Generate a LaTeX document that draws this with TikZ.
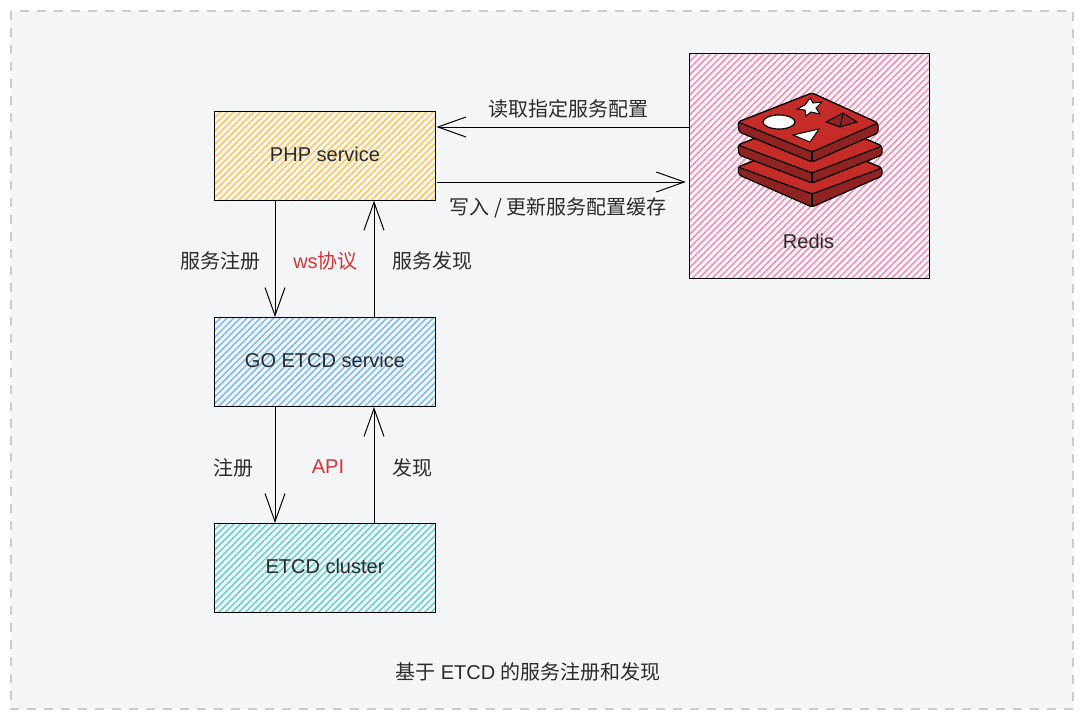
\documentclass[tikz,border=0pt]{standalone}
\usepackage{fontspec}
\setmainfont{Liberation Sans}
\newfontfamily\cjk{Noto Sans CJK SC}
\usetikzlibrary{arrows.meta,patterns.meta}
\definecolor{pagebg}{HTML}{F4F5F7}
\definecolor{pageline}{HTML}{CCCCCC}
\definecolor{inkdark}{HTML}{2B2B2B}
\definecolor{inkred}{HTML}{D9343A}
\definecolor{hatchorange}{HTML}{FFC850}
\definecolor{hatchblue}{HTML}{78BCF2}
\definecolor{hatchteal}{HTML}{62D2D4}
\definecolor{hatchpink}{HTML}{F58CB4}
\definecolor{redislight}{HTML}{C62C27}
\definecolor{redisdark}{HTML}{8E2322}
\tikzset{
  svcbox/.style={draw=black, line width=1pt, inner sep=0pt, minimum width=221.5pt, minimum height=89pt,
    text=inkdark, font=\fontsize{20}{24}\selectfont, text height=14pt, text depth=3pt,
    preaction={fill=pagebg},
    pattern={Lines[angle=45,distance=4.7pt,line width=1.5pt]}},
  flow/.style={draw=black, line width=1pt, -{Straight Barb[length=28pt,width=20pt,line width=1pt]}},
  lbl/.style={text=inkdark, font=\fontsize{20}{24}\selectfont, inner sep=0pt},
  redlbl/.style={lbl, text=inkred},
  slab/.style={draw=black, line width=1.2pt, line join=round, rounded corners=2.5pt}
}
\begin{document}
\begin{tikzpicture}[x=1pt, y=-1pt]
\useasboundingbox (0,0) rectangle (1083,718);
\draw[pageline, fill=pagebg, line width=1.5pt, dash pattern=on 9pt off 8pt] (11,11) rectangle (1073,709);

% Service boxes
\foreach \name/\ypos/\hue/\txt in {
    php/155.5/hatchorange/PHP service,
    go/362/hatchblue/GO ETCD service,
    cluster/568/hatchteal/ETCD cluster
} {
    \node[svcbox, pattern color=\hue] (\name) at (325,\ypos) {\txt};
}
\node[svcbox, pattern color=hatchpink, minimum width=240.5pt, minimum height=225pt] (redis) at (809.5,165.5) {};
\node[lbl] (redisname) at (808.5,241) {Redis};

% Redis logo
\fill[redisdark, slab] (738,167) -- (812,138) -- (882,168) -- (882,176) -- (812,207) -- (739,175) -- cycle;
\fill[redislight, slab] (738,167) -- (812,138) -- (882,168) -- (812,194) -- cycle;
\draw[slab] (812,194) -- (812,207);
\fill[redisdark, slab] (738,145) -- (812,116) -- (882,146) -- (882,155) -- (812,183) -- (739,155) -- cycle;
\fill[redislight, slab] (738,145) -- (812,116) -- (882,146) -- (812,173) -- cycle;
\draw[slab] (812,173) -- (812,183);
\fill[redisdark, slab] (738,122) -- (812,93) -- (878,123) -- (878,133) -- (812,162) -- (739,132) -- cycle;
\fill[redislight, slab] (738,122) -- (812,93) -- (878,123) -- (812,152) -- cycle;
\draw[slab] (812,152) -- (812,162);
\fill[white, draw=black, line width=1.2pt] (779,122) ellipse [x radius=16, y radius=7];
\fill[white, draw=black, line width=1pt] (810,98) -- (813,103) -- (822,102) -- (816,108) -- (820,114) -- (811,112) -- (806,116) -- (805,110) -- (797,109) -- (805,105) -- cycle;
\fill[white, draw=black, line width=1pt] (793,135) -- (819,129) -- (810,142) -- cycle;
\fill[redisdark, draw=black, line width=1pt] (826,122) -- (843,113) -- (857,122) -- (840,127) -- cycle;
\draw[black, line width=1pt] (843,113) -- (840,127);

% Connectors
\coordinate (readpt) at ([yshift=28.5pt]php.east);
\coordinate (writept) at ([yshift=-26.5pt]php.east);
\draw[flow] ([xshift=-50pt]php.south) -- ([xshift=-50pt]go.north);
\draw[flow] ([xshift=49pt]go.north) -- ([xshift=49pt]php.south);
\draw[flow] ([xshift=-50pt]go.south) -- ([xshift=-50pt]cluster.north);
\draw[flow] ([xshift=49pt]cluster.north) -- ([xshift=49pt]go.south);
\draw[flow] (redis.west |- readpt) -- (readpt);
\draw[flow, shorten >=3pt] (writept) -- (redis.west |- writept);

% Labels
\foreach \name/\xpos/\ypos/\txt in {
    lblread/568/108.5/读取指定服务配置,
    lblreg/220/261/服务注册,
    lbldisc/432/261/服务发现,
    lblsign/233/468/注册,
    lblfind/412.5/468/发现
} {
    \node[lbl] (\name) at (\xpos,\ypos) {\cjk \txt};
}
\node[lbl] (lblwrite) at (558,207.5) {\cjk 写入 / 更新服务配置缓存};
\node[redlbl] (lblws) at (325.5,261) {ws{\cjk 协议}};
\node[redlbl] (lblapi) at (328,467) {API};
\node[lbl] (title) at (528,672) {{\cjk 基于} ETCD {\cjk 的服务注册和发现}};
\end{tikzpicture}
\end{document}
